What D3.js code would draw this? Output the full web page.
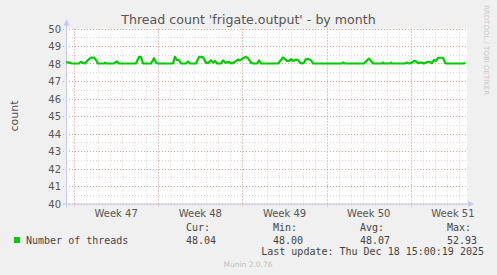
<!DOCTYPE html>
<html><head><meta charset="utf-8">
<script src="https://cdn.jsdelivr.net/npm/d3@7"></script>
<style>body{margin:0;background:#f0f0f0;}svg{display:block;}</style>
</head><body>
<script>
// ---- data ----
const title = "Thread count 'frigate.output' - by month";
const yLabel = "count";
const seriesName = "Number of threads";
const originDate = "2025-11-16T00:00:00Z";   // day offsets are counted from here
const viewStartDay = 0.333, viewEndDay = 33.667;
const weekStarts = ["2025-11-17","2025-11-24","2025-12-01","2025-12-08","2025-12-15"];
const weekLabels = ["Week 47","Week 48","Week 49","Week 50","Week 51"];
const yTicks = [40,41,42,43,44,45,46,47,48,49,50];
const dayOffsets = [0.33,0.58,0.83,1.41,1.58,1.75,1.91,2.16,2.41,2.66,2.83,2.99,3.49,3.58,3.66,4.32,4.57,4.74,
 6.15,6.40,6.57,6.73,7.40,7.65,7.81,7.98,9.23,9.39,9.56,9.73,9.89,10.31,10.47,10.64,11.14,11.39,11.72,11.97,
 12.14,12.39,12.55,12.72,12.89,13.22,13.38,13.55,13.88,14.13,14.38,14.63,14.80,15.05,15.30,15.46,15.71,15.88,
 16.21,16.38,16.54,17.96,18.21,18.37,18.54,18.70,18.87,19.04,19.20,19.45,19.62,19.78,19.95,20.12,20.28,20.53,
 20.70,20.87,23.28,23.36,23.53,25.10,25.27,25.52,25.69,25.85,26.60,26.68,26.77,27.27,27.35,27.43,28.51,28.68,
 28.85,29.09,29.26,29.43,29.59,29.76,29.93,30.09,30.42,30.59,30.76,30.92,31.09,31.26,31.67,31.84,31.92,33.42,33.50];
const threadValues = [48.08,48.05,48.0,48.0,48.1,48.03,48.0,48.2,48.34,48.34,48.2,48.0,48.0,48.05,48.0,48.0,48.12,48.0,
 48.0,48.38,48.36,48.0,48.0,48.3,48.05,48.0,48.0,48.38,48.2,48.2,48.0,48.0,48.12,48.0,48.0,48.38,48.36,48.05,
 48.02,48.18,48.05,48.15,48.0,48.0,48.18,48.05,48.08,48.0,48.1,48.22,48.18,48.3,48.38,48.3,48.05,48.0,
 48.0,48.18,48.0,48.0,48.2,48.35,48.25,48.15,48.15,48.25,48.15,48.22,48.2,48.05,48.0,48.05,48.25,48.25,
 48.18,48.0,48.0,48.05,48.0,48.0,48.12,48.28,48.15,48.0,48.0,48.05,48.0,48.0,48.05,48.0,48.0,48.05,
 48.0,48.05,48.15,48.12,48.02,48.05,48.05,48.0,48.1,48.08,48.02,48.2,48.15,48.33,48.33,48.05,48.0,48.0,48.05];
const statHeads = ["Cur:","Min:","Avg:","Max:"];
const statValues = ["48.04","48.00","48.07","52.93"];
const lastUpdate = "Last update: Thu Dec 18 15:00:19 2025";
const version = "Munin 2.0.76";
const sideText = "RRDTOOL / TOBI OETIKER";

// ---- drawing ----
const W = 497, H = 275;
const X0 = 66, X1 = 467, Y0 = 203.5, Y1 = 28.5;
const DAY = 86400000;
const origin = new Date(originDate).getTime();
const toDate = d => new Date(origin + d*DAY);

const svg = d3.select("body").append("svg").attr("width",W).attr("height",H);
svg.append("rect").attr("width",W).attr("height",H).attr("fill","#f0f0f0");

const x = d3.scaleUtc().domain([toDate(viewStartDay), toDate(viewEndDay)]).range([X0, X1]);
const y = d3.scaleLinear().domain([40,50]).range([Y0, Y1]);

svg.append("rect").attr("x",X0).attr("y",Y1).attr("width",X1-X0).attr("height",Y0-Y1).attr("fill","#fff");

// minor grid: days and half units
const days = d3.utcDay.range(x.domain()[0], x.domain()[1]);
const g = svg.append("g");
g.selectAll(".vd").data(days).join("line")
  .attr("x1",d=>Math.round(x(d))+0.5).attr("x2",d=>Math.round(x(d))+0.5)
  .attr("y1",Y1).attr("y2",Y0).attr("stroke","#d8d8d8").attr("stroke-dasharray","1,2");
const halves = d3.range(40.5,50,1);
g.selectAll(".hh").data(halves).join("line")
  .attr("x1",X0).attr("x2",X1).attr("y1",d=>Math.round(y(d))+0.5).attr("y2",d=>Math.round(y(d))+0.5)
  .attr("stroke","#d8d8d8").attr("stroke-dasharray","1,2");
// major grid
const weeks = weekStarts.map(s=>new Date(s+"T00:00:00Z"));
g.selectAll(".vw").data(weeks).join("line")
  .attr("x1",d=>Math.round(x(d))+0.5).attr("x2",d=>Math.round(x(d))+0.5)
  .attr("y1",Y1).attr("y2",Y0+3).attr("stroke","#eaa0a0").attr("stroke-dasharray","1,2");
g.selectAll(".hy").data(yTicks).join("line")
  .attr("x1",X0-3).attr("x2",X1).attr("y1",d=>Math.round(y(d))+0.5).attr("y2",d=>Math.round(y(d))+0.5)
  .attr("stroke","#eaa0a0").attr("stroke-dasharray","1,2");

// axes
svg.append("line").attr("x1",X0+0.5).attr("x2",X0+0.5).attr("y1",Y0+4).attr("y2",Y1-6).attr("stroke","#c8c8ee");
svg.append("path").attr("d",`M${X0-2.5},${Y1-3} L${X0+3.5},${Y1-3} L${X0+0.5},${Y1-9} Z`).attr("fill","#c8c8ee");
svg.append("line").attr("x1",X0-3).attr("x2",X1+4).attr("y1",Y0+0.5).attr("y2",Y0+0.5).attr("stroke","#c8c8ee");
svg.append("path").attr("d",`M${X1+1},${Y0-2.5} L${X1+1},${Y0+3.5} L${X1+7},${Y0+0.5} Z`).attr("fill","#c8c8ee");

const font = "DejaVu Sans, sans-serif";
const mono = "DejaVu Sans Mono, monospace";
// y labels
svg.selectAll(".yl").data(yTicks).join("text")
  .attr("x",X0-5).attr("y",d=>y(d)+0.5).attr("dy","0.35em").attr("text-anchor","end")
  .attr("font-family",font).attr("font-size",10).attr("fill","#555").text(d=>d);
// x labels centered in each week
svg.selectAll(".xl").data(weeks).join("text")
  .attr("x",d=>x(new Date(d.getTime()+3.5*DAY))).attr("y",Y0+13).attr("text-anchor","middle")
  .attr("font-family",font).attr("font-size",10).attr("fill","#555").text((d,i)=>weekLabels[i]);

// line
const pts = dayOffsets.map((d,i)=>({t:toDate(d), v:threadValues[i]}));
svg.append("path").datum(pts)
  .attr("d", d3.line().x(d=>x(d.t)).y(d=>y(d.v)))
  .attr("fill","none").attr("stroke","#00cc00").attr("stroke-width",2.2).attr("stroke-linejoin","round");

// title etc.
svg.append("text").attr("x",W/2).attr("y",24).attr("text-anchor","middle")
  .attr("font-family",font).attr("font-size",12.6).attr("fill","#555").text(title);
svg.append("text").attr("transform","translate(18,116) rotate(-90)").attr("text-anchor","middle")
  .attr("font-family",font).attr("font-size",11).attr("fill","#555").text(yLabel);
svg.append("text").attr("transform","translate(484,5) rotate(90)").attr("text-anchor","start")
  .attr("font-family",font).attr("font-size",7).attr("fill","#c8c8c8").text(sideText);

// legend
svg.append("rect").attr("x",14).attr("y",237).attr("width",6).attr("height",6).attr("fill","#00cc00");
svg.append("text").attr("x",26).attr("y",243.5).attr("font-family",mono).attr("font-size",10).attr("fill","#444").text(seriesName);
const statX = [186, 273, 360, 447];
statHeads.forEach((h,i)=>{
  svg.append("text").attr("x",statX[i]).attr("y",231).attr("font-family",mono).attr("font-size",10).attr("fill","#444").text(h);
  svg.append("text").attr("x",statX[i]).attr("y",243.5).attr("font-family",mono).attr("font-size",10).attr("fill","#444").text(statValues[i]);
});
svg.append("text").attr("x",484).attr("y",255).attr("text-anchor","end").attr("font-family",mono).attr("font-size",10).attr("fill","#444").text(lastUpdate);
svg.append("text").attr("x",248).attr("y",267).attr("text-anchor","middle").attr("font-family",font).attr("font-size",7.5).attr("fill","#c0c0c0").text(version);
</script>
</body></html>
